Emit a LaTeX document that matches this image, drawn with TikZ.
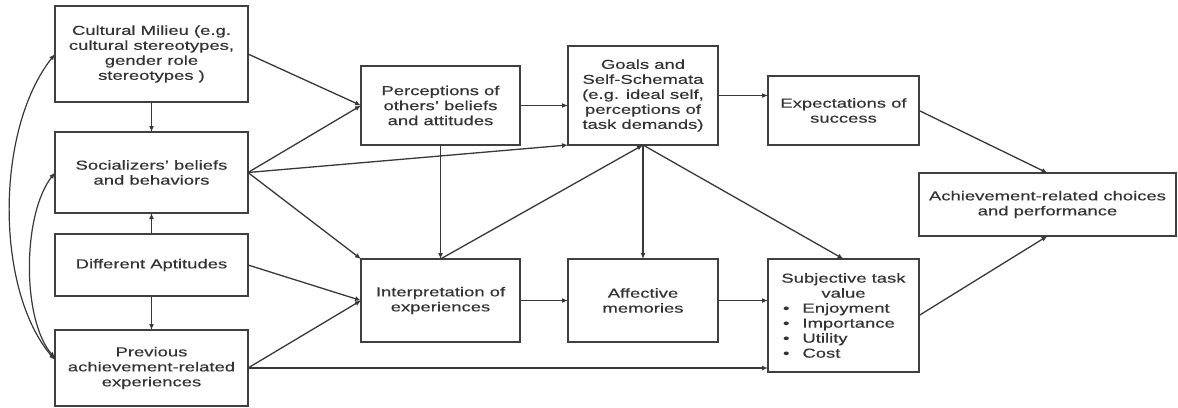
\documentclass[tikz,border=0pt]{standalone}
\usepackage{fontspec}
\setmainfont{Liberation Sans}[FakeStretch=1.42,FakeBold=0.4]
\usetikzlibrary{arrows.meta}
\begin{document}
\begin{tikzpicture}[x=1pt,y=-1pt,
  box/.style={draw=black!75, line width=1.5pt, inner sep=0pt, outer sep=0pt,
    align=center, text=black!80, font=\fontsize{13}{15}\selectfont},
  conn/.style={draw=black!78, line width=1.3pt, -{Latex[length=6pt,width=5pt]}},
  dconn/.style={draw=black!78, line width=1.2pt, {Latex[length=6pt,width=5pt]}-{Latex[length=6pt,width=5pt]}}]
\useasboundingbox (0,0) rectangle (1178,407);
% left column
\node[box, minimum width=193pt, minimum height=96pt] (cult) at (151.5,54) {Cultural Milieu (e.g.\\ cultural stereotypes,\\ gender role\\ stereotypes )};
\node[box, minimum width=193pt, minimum height=81pt] (soc) at (151.5,172.5) {Socializers’ beliefs\\ and behaviors};
\node[box, minimum width=193pt, minimum height=62pt] (apt) at (151.5,265) {Different Aptitudes};
\node[box, minimum width=193pt, minimum height=76pt] (prev) at (151.5,368) {Previous\\ achievement-related\\ experiences};
% middle
\node[box, minimum width=159pt, minimum height=79pt] (perc) at (440.5,105.5) {Perceptions of\\ others’ beliefs\\ and attitudes};
\node[box, minimum width=150pt, minimum height=99pt] (goals) at (643,95.5) {Goals and\\ Self-Schemata\\ (e.g. ideal self,\\ perceptions of\\ task demands)};
\node[box, minimum width=159pt, minimum height=83pt] (interp) at (440.5,300.5) {Interpretation of\\ experiences};
\node[box, minimum width=150pt, minimum height=83pt] (aff) at (643,300.5) {Affective\\ memories};
% right
\node[box, minimum width=151pt, minimum height=69pt] (exp) at (843.5,110.5) {Expectations of\\ success};
\node[box, minimum width=151pt, minimum height=113pt] (subj) at (843.5,315.5) {Subjective task\\ value\\
  \makebox[121pt][l]{\textbullet\hspace{13pt}Enjoyment}\\
  \makebox[121pt][l]{\textbullet\hspace{13pt}Importance}\\
  \makebox[121pt][l]{\textbullet\hspace{13pt}Utility}\\
  \makebox[121pt][l]{\textbullet\hspace{13pt}Cost}};
\node[box, minimum width=257pt, minimum height=63pt] (ach) at (1047.5,204.5) {Achievement-related choices\\ and performance};
% vertical links in left column
\draw[conn] (cult.south) -- (soc.north);
\draw[conn] (apt.north) -- (soc.south);
\draw[conn] (apt.south) -- (prev.north);
% curved double-headed links
\draw[dconn] (cult.west) .. controls (-5,130) and (-5,290) .. ([yshift=8pt]prev.west);
\draw[dconn] (soc.west) .. controls (22,215) and (22,320) .. ([yshift=10pt]prev.west);
% left to middle
\draw[conn] (cult.east) -- (perc.west);
\draw[conn] (soc.east) -- (perc.west);
\draw[conn] (soc.east) -- (goals.south west);
\draw[conn] (soc.east) -- (interp.north west);
\draw[conn] (apt.east) -- (interp.west);
\draw[conn] (prev.east) -- (interp.west);
\draw[conn] (prev.east) -- (prev.east -| subj.west);
% middle
\draw[conn] (perc.east) -- (perc.east -| goals.west);
\draw[conn] (perc.south) -- (interp.north);
\draw[conn] (interp.north) -- (goals.south);
\draw[conn] (goals.south) -- (aff.north);
\draw[conn] (goals.south) -- (subj.north);
\draw[conn] (goals.east) -- (goals.east -| exp.west);
\draw[conn] (interp.east) -- (aff.west);
\draw[conn] (aff.east) -- (aff.east -| subj.west);
% right
\draw[conn] (exp.east) -- (ach.north);
\draw[conn] (subj.east) -- (ach.south);
\end{tikzpicture}
\end{document}
